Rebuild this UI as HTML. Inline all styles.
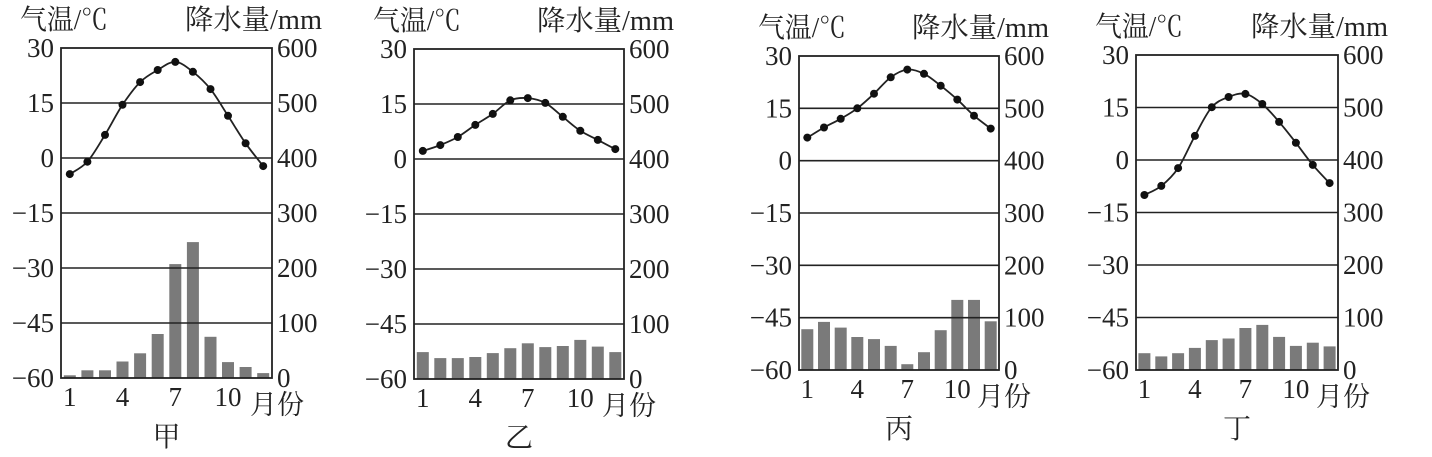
<!DOCTYPE html>
<html><head><meta charset="utf-8">
<style>
html,body{margin:0;padding:0;background:#fff;}
svg{display:block;}
text{font-family:"Liberation Serif","Noto Serif CJK SC","Noto Sans CJK SC",serif;fill:#222;}
</style></head>
<body>
<svg id="s" width="1432" height="457" viewBox="0 0 1432 457" xmlns="http://www.w3.org/2000/svg"></svg>
<script>
var charts=[
 {L:61,R:272,T:48,B:378,name:"甲",
  t:[-4.4,-1,6.3,14.5,20.7,24,26.2,23.5,18.8,11.5,4,-2.2],
  p:[5,14,14,30,45,80,207,247,75,29,20,9]},
 {L:414,R:624,T:49,B:379,name:"乙",
  t:[2.2,3.8,6,9.3,12.3,16,16.6,15.3,11.5,7.7,5.2,2.7],
  p:[49,38,38,40,47,56,65,58,60,71,59,49]},
 {L:799,R:999,T:56,B:370,name:"丙",
  t:[6.6,9.5,12,15,19.2,23.9,26.1,24.9,21.5,17.5,12.9,9.2],
  p:[78,92,81,63,59,46,11,34,76,134,134,93]},
 {L:1136,R:1338,T:55,B:370,name:"丁",
  t:[-10,-7.4,-2.3,6.9,15.1,18,18.9,16,10.9,4.9,-1.4,-6.6],
  p:[32,26,32,42,57,60,80,86,63,46,52,45]}
];
var h='';
charts.forEach(function(c){
 var st=(c.B-c.T)/6, w=(c.R-c.L)/12;
 function ty(v){return c.T+(30-v)/15*st;}
 function py(v){return c.B-v/100*st;}
 function cx(i){return c.L+(i+0.5)*w;}
 c.p.forEach(function(v,i){
  var y=py(v);
  h+='<rect x="'+(cx(i)-6).toFixed(1)+'" y="'+y.toFixed(1)+'" width="12" height="'+(c.B-y).toFixed(1)+'" fill="#7a7a7a"/>';
 });
 for(var k=1;k<6;k++){var y=c.T+k*st;h+='<line x1="'+c.L+'" x2="'+c.R+'" y1="'+y+'" y2="'+y+'" stroke="#222" stroke-width="1.6"/>';}
 h+='<rect x="'+c.L+'" y="'+c.T+'" width="'+(c.R-c.L)+'" height="'+(c.B-c.T)+'" fill="none" stroke="#222" stroke-width="1.8"/>';
 var pts=c.t.map(function(v,i){return [cx(i),ty(v)];});
 var d='M'+pts[0][0]+','+pts[0][1];
 for(var i=0;i<pts.length-1;i++){
  var p0=pts[Math.max(0,i-1)],p1=pts[i],p2=pts[i+1],p3=pts[Math.min(pts.length-1,i+2)];
  d+=' C'+(p1[0]+(p2[0]-p0[0])/6).toFixed(1)+','+(p1[1]+(p2[1]-p0[1])/6).toFixed(1)+' '+(p2[0]-(p3[0]-p1[0])/6).toFixed(1)+','+(p2[1]-(p3[1]-p1[1])/6).toFixed(1)+' '+p2[0].toFixed(1)+','+p2[1].toFixed(1);
 }
 h+='<path d="'+d+'" fill="none" stroke="#222" stroke-width="1.8"/>';
 pts.forEach(function(p){h+='<circle cx="'+p[0].toFixed(1)+'" cy="'+p[1].toFixed(1)+'" r="4" fill="#111"/>';});
 var tl=["30","15","0","\u221215","\u221230","\u221245","\u221260"],pl=["600","500","400","300","200","100","0"];
 for(var k=0;k<7;k++){
  var y=c.T+k*st+9;
  h+='<text x="'+(c.L-7)+'" y="'+y+'" font-size="27" text-anchor="end">'+tl[k]+'</text>';
  h+='<text x="'+(c.R+5)+'" y="'+y+'" font-size="27">'+pl[k]+'</text>';
 }
 [0,3,6,9].forEach(function(i){h+='<text x="'+cx(i).toFixed(1)+'" y="'+(c.B+28)+'" font-size="27" text-anchor="middle">'+(i+1)+'</text>';});
 h+='<text x="'+(c.R-22)+'" y="'+(c.B+36)+'" font-size="27">月份</text>';
 h+='<text x="'+(c.L-41)+'" y="'+(c.T-19)+'" font-size="28" textLength="88" lengthAdjust="spacingAndGlyphs">气温/℃</text>';
 h+='<text x="'+(c.R+50)+'" y="'+(c.T-19)+'" font-size="28" text-anchor="end" textLength="137" lengthAdjust="spacingAndGlyphs">降水量/mm</text>';
 h+='<text x="'+((c.L+c.R)/2)+'" y="'+(c.B+68)+'" font-size="28" text-anchor="middle">'+c.name+'</text>';
});
document.getElementById('s').innerHTML=h;
</script>
</body></html>
